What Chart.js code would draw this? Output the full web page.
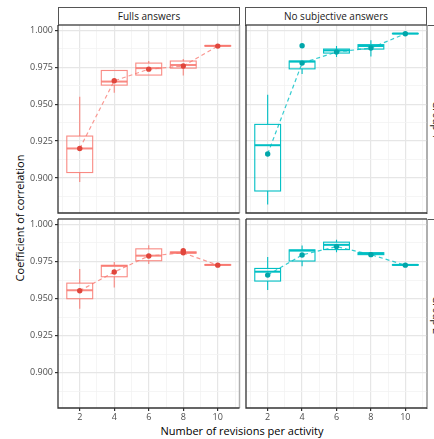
<!DOCTYPE html>
<html><head><meta charset="utf-8">
<script src="https://cdn.jsdelivr.net/npm/chart.js@4"></script>
<style>
html,body{margin:0;padding:0;background:#fff;}
body{width:434px;height:439px;position:relative;overflow:hidden;font-family:'Open Sans',sans-serif;}
canvas{position:absolute;}
.strip{position:absolute;box-sizing:border-box;border:1px solid #555;border-bottom:none;background:#fff;font-size:10px;color:#1a1a1a;text-align:center;line-height:17px;}
.rstrip{position:absolute;box-sizing:border-box;border-left:2px solid #aaa;border-top:1px solid #555;background:#fff;overflow:visible;}
.rstrip span{position:absolute;left:50%;top:50%;transform:translate(-50%,-50%) rotate(90deg);font-size:10px;color:#1a1a1a;white-space:nowrap;}
.ytitle{position:absolute;left:19px;top:218px;transform:translate(-50%,-50%) rotate(-90deg);font-size:11px;color:#000;white-space:nowrap;}
.xtitle{position:absolute;left:242px;top:430px;transform:translate(-50%,-50%);font-size:11px;color:#000;white-space:nowrap;}
</style></head>
<body>
<div class="strip" style="left:58px;top:7px;width:182px;height:19px;">Fulls answers</div>
<div class="strip" style="left:245px;top:7px;width:182px;height:19px;">No subjective answers</div>
<div class="rstrip" style="left:426px;top:25px;width:20px;height:189px;"><span>Group 1</span></div>
<div class="rstrip" style="left:426px;top:219px;width:20px;height:190px;"><span>Group 2</span></div>
<div class="ytitle">Coefficient of correlation</div>
<div class="xtitle">Number of revisions per activity</div>
<script>
// ---- data ----
const revisions = [2, 4, 6, 8, 10];
const xTickLabels = ['2', '4', '6', '8', '10'];
const xGridValues = [1, 2, 3, 4, 5, 6, 7, 8, 9, 10, 11];
const yTickValues = [0.900, 0.925, 0.950, 0.975, 1.000];
const yMinorValues = [0.8875, 0.9125, 0.9375, 0.9625, 0.9875];

// Fulls answers, group 1
const fullG1Low  = [0.8973, 0.9578, 0.9697, 0.9694, 0.9893];
const fullG1Q1   = [0.9037, 0.9629, 0.9697, 0.9744, 0.9893];
const fullG1Med  = [0.9200, 0.9653, 0.9744, 0.9765, 0.9895];
const fullG1Q3   = [0.9284, 0.9728, 0.9778, 0.9792, 0.9897];
const fullG1High = [0.9550, 0.9728, 0.9792, 0.9805, 0.9897];
const fullG1Mean = [0.9200, 0.9658, 0.9737, 0.9758, 0.9893];
const fullG1Out  = [];

// No subjective answers, group 1
const noSubG1Low  = [0.8821, 0.9705, 0.9819, 0.9823, 0.9977];
const noSubG1Q1   = [0.8912, 0.9739, 0.9846, 0.9873, 0.9977];
const noSubG1Med  = [0.9222, 0.9788, 0.9864, 0.9894, 0.9978];
const noSubG1Q3   = [0.9363, 0.9792, 0.9873, 0.9903, 0.9979];
const noSubG1High = [0.9563, 0.9792, 0.9894, 0.9932, 0.9979];
const noSubG1Mean = [0.9163, 0.9778, 0.9853, 0.9880, 0.9977];
const noSubG1Out  = [{x: 4, y: 0.9896}];

// Fulls answers, group 2
const fullG2Low  = [0.9431, 0.9574, 0.9733, 0.9806, 0.9725];
const fullG2Q1   = [0.9499, 0.9647, 0.9755, 0.9806, 0.9725];
const fullG2Med  = [0.9556, 0.9720, 0.9789, 0.9810, 0.9727];
const fullG2Q3   = [0.9604, 0.9724, 0.9835, 0.9814, 0.9729];
const fullG2High = [0.9699, 0.9747, 0.9859, 0.9814, 0.9729];
const fullG2Mean = [0.9553, 0.9679, 0.9787, 0.9808, 0.9725];
const fullG2Out  = [{x: 8, y: 0.9822}];

// No subjective answers, group 2
const noSubG2Low  = [0.9558, 0.9717, 0.9812, 0.9796, 0.9725];
const noSubG2Q1   = [0.9618, 0.9753, 0.9830, 0.9796, 0.9725];
const noSubG2Med  = [0.9681, 0.9823, 0.9862, 0.9803, 0.9727];
const noSubG2Q3   = [0.9703, 0.9828, 0.9880, 0.9809, 0.9729];
const noSubG2High = [0.9780, 0.9857, 0.9896, 0.9809, 0.9729];
const noSubG2Mean = [0.9658, 0.9794, 0.9850, 0.9796, 0.9725];
const noSubG2Out  = [];

// ---- styles ----
const RED_BOX = 'rgba(248,118,109,0.85)';
const RED_LINE = 'rgba(248,118,109,0.75)';
const RED_PT = '#E0463C';
const CYAN_BOX = '#00BFC4';
const CYAN_LINE = 'rgba(0,191,196,0.8)';
const CYAN_PT = '#00A6AA';
const X_MIN = 0.74, X_MAX = 11.26, Y_MIN = 0.8763, Y_MAX = 1.0036;
const BOX_HALF = 0.75;

const isMajorY = v => yTickValues.some(t => Math.abs(t - v) < 1e-6);
const isMajorX = v => revisions.includes(v);

const boxPlugin = {
  id: 'boxes',
  beforeDatasetsDraw(chart, args, o) {
    const {ctx} = chart;
    const xs = chart.scales.x, ys = chart.scales.y;
    ctx.save();
    ctx.strokeStyle = o.color;
    for (let i = 0; i < revisions.length; i++) {
      const cx = xs.getPixelForValue(revisions[i]);
      const x0 = xs.getPixelForValue(revisions[i] - BOX_HALF);
      const x1 = xs.getPixelForValue(revisions[i] + BOX_HALF);
      const pLo = ys.getPixelForValue(o.low[i]);
      const pQ1 = ys.getPixelForValue(o.q1[i]);
      const pMd = ys.getPixelForValue(o.med[i]);
      const pQ3 = ys.getPixelForValue(o.q3[i]);
      const pHi = ys.getPixelForValue(o.high[i]);
      ctx.lineWidth = 1.1;
      ctx.beginPath();
      ctx.moveTo(cx, pHi); ctx.lineTo(cx, pQ3);
      ctx.moveTo(cx, pQ1); ctx.lineTo(cx, pLo);
      ctx.stroke();
      ctx.strokeRect(x0, pQ3, x1 - x0, pQ1 - pQ3);
      ctx.lineWidth = 2;
      ctx.beginPath();
      ctx.moveTo(x0, pMd); ctx.lineTo(x1, pMd);
      ctx.stroke();
    }
    ctx.restore();
  },
  afterDraw(chart) {
    const {ctx, chartArea: a} = chart;
    ctx.save();
    ctx.lineWidth = 1.5;
    ctx.strokeStyle = '#b0b0b0';
    ctx.beginPath(); ctx.moveTo(a.right, a.top); ctx.lineTo(a.right, a.bottom); ctx.stroke();
    ctx.lineWidth = 1.3;
    ctx.strokeStyle = '#555';
    ctx.beginPath(); ctx.moveTo(a.left, a.top); ctx.lineTo(a.right, a.top); ctx.stroke();
    ctx.strokeStyle = '#333';
    ctx.beginPath(); ctx.moveTo(a.left, a.top); ctx.lineTo(a.left, a.bottom); ctx.lineTo(a.right, a.bottom); ctx.stroke();
    ctx.restore();
  }
};

function makePanel(p) {
  const PAD = 12;
  const yW = p.showY ? p.l : 0;
  const padL = p.showY ? 0 : PAD;
  const xH = p.showX ? 22 : 0;
  const cLeft = p.l - yW - padL;
  const cTop = p.t - PAD;
  const w = Math.round(p.r - cLeft + PAD);
  const h = Math.round(p.b - cTop + xH + PAD);
  const cv = document.createElement('canvas');
  cv.width = w; cv.height = h;
  cv.style.left = cLeft + 'px'; cv.style.top = cTop + 'px';
  cv.style.width = w + 'px'; cv.style.height = h + 'px';
  document.body.appendChild(cv);
  const datasets = [{
    type: 'line',
    data: revisions.map((x, i) => ({x, y: p.mean[i]})),
    borderColor: p.lineColor, borderWidth: 1.2, borderDash: [4, 3],
    pointRadius: 2.7, pointBackgroundColor: p.ptColor, pointBorderWidth: 0,
    tension: 0, fill: false
  }, {
    type: 'scatter',
    data: p.out,
    pointRadius: 2.7, pointBackgroundColor: p.ptColor, pointBorderWidth: 0, showLine: false
  }];
  new Chart(cv, {
    data: {datasets},
    plugins: [boxPlugin],
    options: {
      responsive: false, animation: false, devicePixelRatio: 1,
      layout: {padding: {left: padL, top: PAD, right: w - (p.r - cLeft), bottom: h - (p.b - cTop) - xH}},
      plugins: {legend: {display: false}, tooltip: {enabled: false},
        boxes: {color: p.boxColor, low: p.low, q1: p.q1, med: p.med, q3: p.q3, high: p.high}},
      scales: {
        x: {
          type: 'linear', min: X_MIN, max: X_MAX,
          afterBuildTicks: s => { s.ticks = xGridValues.map(v => ({value: v})); },
          afterFit: s => { s.height = xH; },
          border: {display: false},
          grid: {
            color: c => isMajorX(c.tick.value) ? '#e6e6e6' : '#f2f2f2',
            lineWidth: c => isMajorX(c.tick.value) ? 1.2 : 0.8,
            drawTicks: p.showX, tickLength: 3,
            tickColor: c => isMajorX(c.tick.value) ? '#333' : 'rgba(0,0,0,0)'
          },
          ticks: {display: p.showX, autoSkip: false, maxRotation: 0, padding: 1,
            color: '#4d4d4d', font: {family: 'Open Sans', size: 9},
            callback: v => { const k = revisions.indexOf(v); return k >= 0 ? xTickLabels[k] : ''; }}
        },
        y: {
          type: 'linear', min: Y_MIN, max: Y_MAX,
          afterBuildTicks: s => { s.ticks = yMinorValues.concat(yTickValues).sort((a, b) => a - b).map(v => ({value: v})); },
          afterFit: s => { s.width = yW; },
          border: {display: false},
          grid: {
            color: c => isMajorY(c.tick.value) ? '#e6e6e6' : '#f2f2f2',
            lineWidth: c => isMajorY(c.tick.value) ? 1.2 : 0.8,
            drawTicks: p.showY, tickLength: 3,
            tickColor: c => isMajorY(c.tick.value) ? '#333' : 'rgba(0,0,0,0)'
          },
          ticks: {display: p.showY, autoSkip: false, padding: 2,
            color: '#4d4d4d', font: {family: 'Open Sans', size: 9},
            callback: v => isMajorY(v) ? v.toFixed(3) : ''}
        }
      }
    }
  });
}

makePanel({l: 58, t: 25, r: 239.5, b: 213, showY: true, showX: false,
  low: fullG1Low, q1: fullG1Q1, med: fullG1Med, q3: fullG1Q3, high: fullG1High, mean: fullG1Mean, out: fullG1Out,
  boxColor: RED_BOX, lineColor: RED_LINE, ptColor: RED_PT});
makePanel({l: 245.5, t: 25, r: 426.5, b: 213, showY: false, showX: false,
  low: noSubG1Low, q1: noSubG1Q1, med: noSubG1Med, q3: noSubG1Q3, high: noSubG1High, mean: noSubG1Mean, out: noSubG1Out,
  boxColor: CYAN_BOX, lineColor: CYAN_LINE, ptColor: CYAN_PT});
makePanel({l: 58, t: 219.3, r: 239.5, b: 408.3, showY: true, showX: true,
  low: fullG2Low, q1: fullG2Q1, med: fullG2Med, q3: fullG2Q3, high: fullG2High, mean: fullG2Mean, out: fullG2Out,
  boxColor: RED_BOX, lineColor: RED_LINE, ptColor: RED_PT});
makePanel({l: 245.5, t: 219.3, r: 426.5, b: 408.3, showY: false, showX: true,
  low: noSubG2Low, q1: noSubG2Q1, med: noSubG2Med, q3: noSubG2Q3, high: noSubG2High, mean: noSubG2Mean, out: noSubG2Out,
  boxColor: CYAN_BOX, lineColor: CYAN_LINE, ptColor: CYAN_PT});
</script>
</body></html>
